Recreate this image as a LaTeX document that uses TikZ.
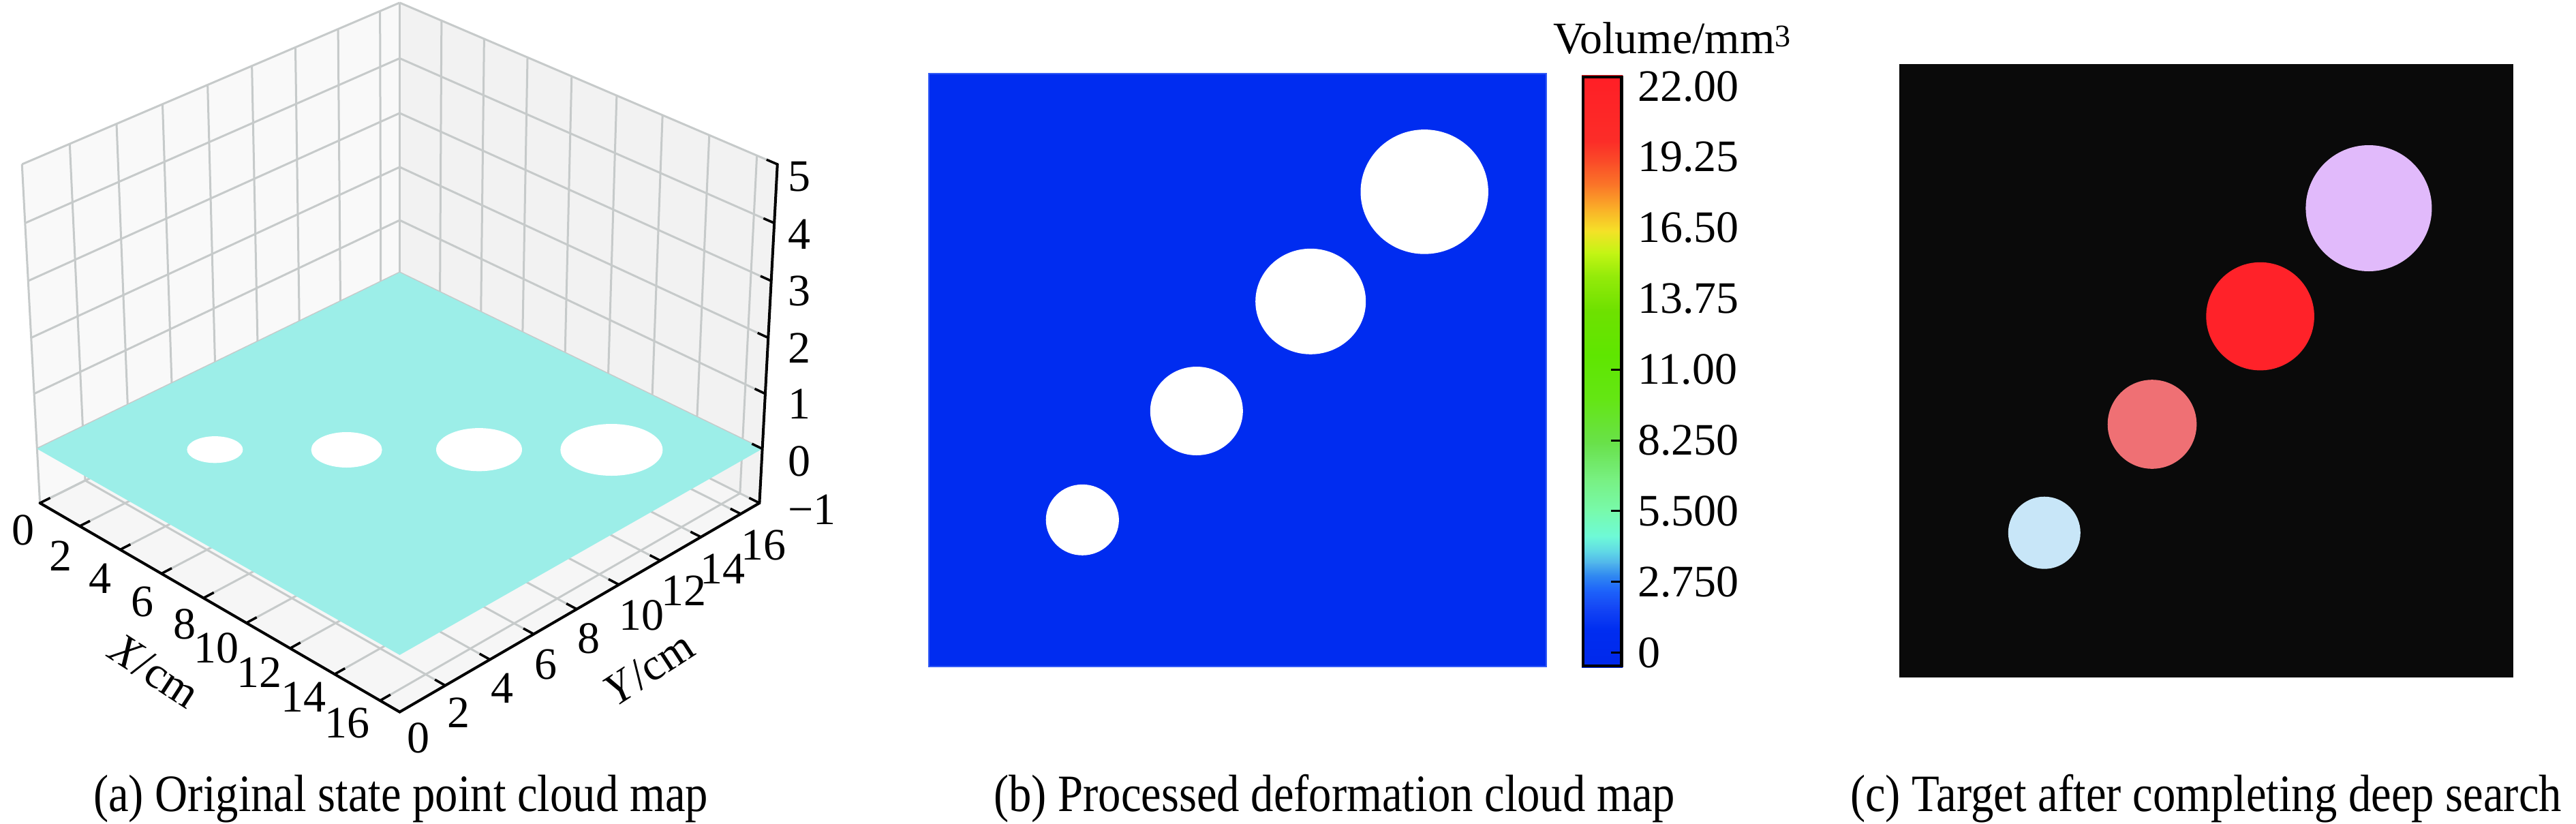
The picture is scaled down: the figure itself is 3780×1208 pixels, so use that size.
\documentclass[tikz,border=0pt]{standalone}
\usepackage{fontspec}
\setmainfont{Liberation Serif}
\usepackage{graphicx}
\definecolor{paneL}{RGB}{249,249,249}
\definecolor{paneR}{RGB}{242,242,242}
\definecolor{paneF}{RGB}{246,246,246}
\definecolor{gridc}{RGB}{198,202,202}
\definecolor{cyanp}{RGB}{156,238,232}
\definecolor{bluep}{RGB}{0,44,240}
\definecolor{blueedge}{RGB}{50,90,245}
\definecolor{blackp}{RGB}{10,10,10}
\definecolor{tgA}{RGB}{200,230,248}
\definecolor{tgB}{RGB}{239,112,116}
\definecolor{tgC}{RGB}{255,34,41}
\definecolor{tgD}{RGB}{225,186,251}
% colorbar stops
\definecolor{cb0}{RGB}{0,40,235}
\definecolor{cb1}{RGB}{0,45,240}
\definecolor{cb2}{RGB}{20,70,245}
\definecolor{cb3}{RGB}{30,100,250}
\definecolor{cb4}{RGB}{50,140,240}
\definecolor{cb5}{RGB}{80,180,235}
\definecolor{cb6}{RGB}{95,215,230}
\definecolor{cb7}{RGB}{110,250,215}
\definecolor{cb8}{RGB}{120,250,170}
\definecolor{cb9}{RGB}{120,240,130}
\definecolor{cb10}{RGB}{105,225,75}
\definecolor{cb11}{RGB}{100,230,20}
\definecolor{cb12}{RGB}{95,230,0}
\definecolor{cb13}{RGB}{110,225,0}
\definecolor{cb14}{RGB}{150,235,10}
\definecolor{cb15}{RGB}{195,245,20}
\definecolor{cb16}{RGB}{245,225,40}
\definecolor{cb17}{RGB}{250,175,40}
\definecolor{cb18}{RGB}{250,120,40}
\definecolor{cb19}{RGB}{250,80,40}
\definecolor{cb20}{RGB}{252,45,40}
\definecolor{cb21}{RGB}{255,30,38}

\pgfkeys{/pth/.cd, x/.store in=\pthX, y/.store in=\pthY, z/.store in=\pthZ}
\tikzdeclarecoordinatesystem{p3}{%
  \pgfkeys{/pth/.cd,#1}%
  \pgfmathsetmacro\pthu{(\pthX)/16.85-0.5}%
  \pgfmathsetmacro\pthv{(\pthY)/16.95-0.5}%
  \pgfmathsetmacro\pthw{(((\pthZ)+1)/6-0.5)*0.75}%
  \pgfmathsetmacro\pths{((\pthu)+(\pthv))*0.70711}%
  \pgfmathsetmacro\pthq{((\pthu)-(\pthv))*0.70711}%
  \pgfmathsetmacro\pthf{1/(1-((\pthq)*0.86603+(\pthw)*0.5)/7.71)}%
  \pgfmathsetmacro\pthpx{586.5+764.8*(\pths)*(\pthf)}%
  \pgfmathsetmacro\pthpy{495.6-764.8*(0.86603*(\pthw)-0.5*(\pthq))*(\pthf)}%
  \pgfpoint{\pthpx pt}{-\pthpy pt}%
}

\newcommand\fsTick{\fontsize{66}{70}\selectfont}
\newcommand\fsCap{\fontsize{77}{90}\selectfont}

\tikzset{
  gridln/.style={draw=gridc, line width=3},
  axisln/.style={draw=black, line width=4, line cap=round},
  tickmk/.style={draw=black, line width=3.5},
  ticklbl/.style={inner sep=0, font=\fsTick},
  caplbl/.style={inner sep=0, font=\fsCap, anchor=base},
}

\begin{document}
\begin{tikzpicture}[x=1pt,y=-1pt]
\fill[white] (0,0) rectangle (3780,1208);
\useasboundingbox (0,0) rectangle (3780,1208);

% ---------------- panel (a) ----------------
% panes
\fill[paneL] (p3 cs:x=0,y=0,z=-1) -- (p3 cs:x=0,y=0,z=5) -- (p3 cs:x=0,y=16.95,z=5) -- (p3 cs:x=0,y=16.95,z=-1) -- cycle;
\fill[paneR] (p3 cs:x=0,y=16.95,z=-1) -- (p3 cs:x=0,y=16.95,z=5) -- (p3 cs:x=16.85,y=16.95,z=5) -- (p3 cs:x=16.85,y=16.95,z=-1) -- cycle;
\fill[paneF] (p3 cs:x=0,y=0,z=-1) -- (p3 cs:x=16.85,y=0,z=-1) -- (p3 cs:x=16.85,y=16.95,z=-1) -- (p3 cs:x=0,y=16.95,z=-1) -- cycle;
% grids
\foreach \yy in {0,2,...,16} \draw[gridln] (p3 cs:x=0,y=\yy,z=-1) -- (p3 cs:x=0,y=\yy,z=5);
\foreach \zz in {-1,0,...,5} \draw[gridln] (p3 cs:x=0,y=0,z=\zz) -- (p3 cs:x=0,y=16.95,z=\zz);
\foreach \xx in {0,2,...,16} \draw[gridln] (p3 cs:x=\xx,y=16.95,z=-1) -- (p3 cs:x=\xx,y=16.95,z=5);
\foreach \zz in {-1,0,...,5} \draw[gridln] (p3 cs:x=0,y=16.95,z=\zz) -- (p3 cs:x=16.85,y=16.95,z=\zz);
\foreach \xx in {0,2,...,16} \draw[gridln] (p3 cs:x=\xx,y=0,z=-1) -- (p3 cs:x=\xx,y=16.95,z=-1);
\foreach \yy in {0,2,...,16} \draw[gridln] (p3 cs:x=0,y=\yy,z=-1) -- (p3 cs:x=16.85,y=\yy,z=-1);
% cyan plane
\fill[cyanp] (p3 cs:x=0,y=0,z=0) -- (p3 cs:x=16.85,y=0,z=0) -- (p3 cs:x=16.85,y=16.95,z=0) -- (p3 cs:x=0,y=16.95,z=0) -- cycle;
% holes
\fill[white] (315.4,659.7) ellipse [x radius=41, y radius=19.6];
\fill[white] (508.6,660) ellipse [x radius=52, y radius=26];
\fill[white] (703,659.7) ellipse [x radius=63, y radius=31.6];
\fill[white] (897.4,660) ellipse [x radius=75, y radius=38];
% axes
\draw[axisln] (p3 cs:x=0,y=0,z=-1) -- (p3 cs:x=16.85,y=0,z=-1) -- (p3 cs:x=16.85,y=16.95,z=-1) -- (p3 cs:x=16.85,y=16.95,z=5);
\foreach \xx in {0,2,...,16} \draw[tickmk] (p3 cs:x=\xx,y=0,z=-1) -- (p3 cs:x=\xx,y=0.45,z=-1);
\foreach \yy in {0,2,...,16} \draw[tickmk] (p3 cs:x=16.85,y=\yy,z=-1) -- (p3 cs:x=16.4,y=\yy,z=-1);
\foreach \zz in {-1,0,...,5} \draw[tickmk] (p3 cs:x=16.85,y=16.95,z=\zz) -- (p3 cs:x=16.4,y=16.95,z=\zz);
% tick labels
\foreach \t/\px/\py in {0/34/778,2/89/815.5,4/147/849,6/209/883,8/271/916,10/317/951,12/380/986.5,14/445/1022.5,16/509/1061}
  \node[ticklbl] (xl\t) at (\px,\py) {\t};
\foreach \t/\px/\py in {0/614/1082.6,2/673/1045.4,4/737/1009.3,6/801/974.5,8/864.3/936.4,10/941.2/902.4,12/1003.7/866.3,14/1060.6/834.3,16/1120.6/799.5}
  \node[ticklbl] (yl\t) at (\px,\py) {\t};
\foreach \t/\py in {5/259.2,4/343.7,3/427.3,2/511,1/592.7,0/677}
  \node[ticklbl, anchor=west] (zl\t) at (1156,\py) {\t};
\node[ticklbl, anchor=west] (zlm1) at (1156,748.2) {−1};
\node[ticklbl, rotate=-33] (xlab) at (227,984.5) {\textit{X}/cm};
\node[ticklbl, rotate=33] (ylab) at (952.4,980.5) {\textit{Y}/cm};
\node[caplbl] (capa) at (588,1190) {\scalebox{0.866}[1]{(a) Original state point cloud map}};

% ---------------- panel (b) ----------------
\fill[bluep] (1363,108) rectangle (2269,978);
\draw[blueedge, line width=1.5] (1363,108) rectangle (2269,978);
\fill[white] (1588.3,762.8) ellipse [x radius=53.6, y radius=52];
\fill[white] (1755.8,603) ellipse [x radius=68, y radius=65];
\fill[white] (1923.2,442.3) ellipse [x radius=81, y radius=77.5];
\fill[white] (2090.2,281.4) ellipse [x radius=93.7, y radius=91.3];
% colorbar
\foreach \ya/\yb/\ca/\cbb in {979.2/923.6/cb0/cb1, 923.6/891.5/cb1/cb2, 891.5/865.4/cb2/cb3, 865.4/842.8/cb3/cb4, 842.8/826.3/cb4/cb5, 826.3/809.8/cb5/cb6, 809.8/787.2/cb6/cb7, 787.2/748.2/cb7/cb8, 748.2/703.0/cb8/cb9, 703.0/650.9/cb9/cb10, 650.9/585.7/cb10/cb11, 585.7/520.6/cb11/cb12, 520.6/455.4/cb12/cb13, 455.4/403.3/cb13/cb14, 403.3/371.2/cb14/cb15, 371.2/338.2/cb15/cb16, 338.2/306.0/cb16/cb17, 306.0/273.0/cb17/cb18, 273.0/240.9/cb18/cb19, 240.9/207.9/cb19/cb20, 207.9/110.6/cb20/cb21}
  \shade[bottom color=\ca, top color=\cbb] (2321,\ya+0.5) rectangle (2381,\yb-0.5);
\draw[black, line width=4.5] (2323,112.8) rectangle (2379.5,977);
\foreach \v in {0,2.75,5.5,8.25,11}
  \draw[black, line width=3] (2364,{957.7-37.78*\v}) -- (2378,{957.7-37.78*\v});
\foreach \n/\lab/\v in {a/22.00/22, b/19.25/19.25, c/16.50/16.5, d/13.75/13.75, e/11.00/11, f/8.250/8.25, g/5.500/5.5, h/2.750/2.75, i/0/0}
  \node[ticklbl, anchor=west] (cb\n) at (2403,{957.7-37.78*\v}) {\lab};
\node[ticklbl, anchor=base west] (cbtitle) at (2279,78) {Volume/mm\textsuperscript{3}};
\node[caplbl] (capb) at (1958,1190) {\scalebox{0.866}[1]{(b) Processed deformation cloud map}};

% ---------------- panel (c) ----------------
\fill[blackp] (2787,94) rectangle (3688,994);
\fill[tgA] (2999.8,781.7) circle [radius=53];
\fill[tgB] (3158,622.5) circle [radius=65.3];
\fill[tgC] (3316.6,464.1) circle [radius=79.3];
\fill[tgD] (3475.9,305.5) circle [radius=92.5];
\node[caplbl] (capc) at (3237,1190) {\scalebox{0.866}[1]{(c) Target after completing deep search}};
\end{tikzpicture}
\end{document}
